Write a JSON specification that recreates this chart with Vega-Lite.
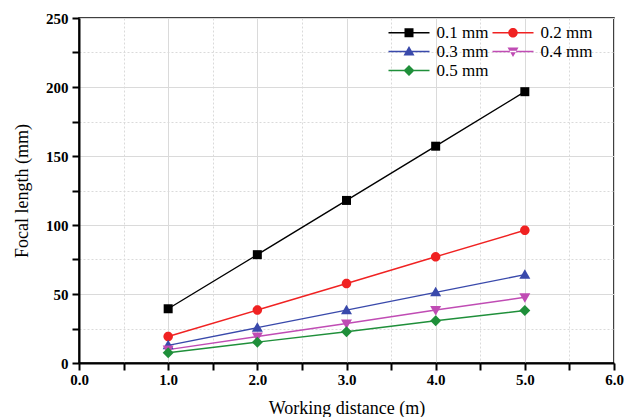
{
  "$schema": "https://vega.github.io/schema/vega-lite/v6.json",
  "width": 535,
  "height": 345,
  "autosize": {"type": "none"},
  "padding": {"left": 79, "top": 18, "right": 12, "bottom": 54},
  "background": "white",
  "config": {
    "font": "Liberation Serif",
    "view": {"stroke": "#000", "strokeWidth": 1.5},
    "legend": {"symbolStrokeWidth": 0, "padding": 0}
  },
  "data": {
    "values": [
      {"distance": 1, "focal": 39.3, "diameter": "0.1 mm"},
      {"distance": 2, "focal": 78.5, "diameter": "0.1 mm"},
      {"distance": 3, "focal": 117.8, "diameter": "0.1 mm"},
      {"distance": 4, "focal": 157.1, "diameter": "0.1 mm"},
      {"distance": 5, "focal": 196.6, "diameter": "0.1 mm"},
      {"distance": 1, "focal": 19.2, "diameter": "0.2 mm"},
      {"distance": 2, "focal": 38.4, "diameter": "0.2 mm"},
      {"distance": 3, "focal": 57.6, "diameter": "0.2 mm"},
      {"distance": 4, "focal": 77.0, "diameter": "0.2 mm"},
      {"distance": 5, "focal": 96.2, "diameter": "0.2 mm"},
      {"distance": 1, "focal": 12.8, "diameter": "0.3 mm"},
      {"distance": 2, "focal": 25.6, "diameter": "0.3 mm"},
      {"distance": 3, "focal": 38.3, "diameter": "0.3 mm"},
      {"distance": 4, "focal": 51.2, "diameter": "0.3 mm"},
      {"distance": 5, "focal": 64.0, "diameter": "0.3 mm"},
      {"distance": 1, "focal": 9.7, "diameter": "0.4 mm"},
      {"distance": 2, "focal": 19.2, "diameter": "0.4 mm"},
      {"distance": 3, "focal": 28.6, "diameter": "0.4 mm"},
      {"distance": 4, "focal": 38.4, "diameter": "0.4 mm"},
      {"distance": 5, "focal": 47.6, "diameter": "0.4 mm"},
      {"distance": 1, "focal": 7.4, "diameter": "0.5 mm"},
      {"distance": 2, "focal": 15.1, "diameter": "0.5 mm"},
      {"distance": 3, "focal": 22.6, "diameter": "0.5 mm"},
      {"distance": 4, "focal": 30.6, "diameter": "0.5 mm"},
      {"distance": 5, "focal": 38.0, "diameter": "0.5 mm"}
    ]
  },
  "encoding": {
    "x": {
      "field": "distance",
      "type": "quantitative",
      "scale": {"domain": [0, 6], "nice": false, "zero": false},
      "axis": {
        "title": "Working distance (m)",
        "values": [0, 0.5, 1, 1.5, 2, 2.5, 3, 3.5, 4, 4.5, 5, 5.5, 6],
        "labelExpr": "datum.value % 1 === 0 ? format(datum.value, '.1f') : ''",
        "labelFont": "Liberation Serif",
        "labelFontWeight": "bold",
        "labelFontSize": 15,
        "labelColor": "#000",
        "labelPadding": 2,
        "labelFlush": false,
        "labelOverlap": false,
        "tickSize": 7,
        "tickColor": "#000",
        "tickWidth": 2,
        "domainColor": "#000",
        "domainWidth": 2,
        "grid": true,
        "gridColor": "#dadada",
        "gridWidth": 1,
        "gridDash": {"condition": {"test": "datum.value % 1 === 0", "value": []}, "value": [2, 2]},
        "titleFont": "Liberation Serif",
        "titleFontSize": 18,
        "titleFontWeight": "normal",
        "titleColor": "#000",
        "titlePadding": 12,
        "encode": {
          "ticks": {
            "update": {
              "y": {"signal": "datum.value % 1 === 0 ? -7 : -4"},
              "y2": {"signal": "datum.value % 1 === 0 ? 7 : 4"}
            }
          }
        }
      }
    },
    "y": {
      "field": "focal",
      "type": "quantitative",
      "scale": {"domain": [0, 250], "nice": false},
      "axis": {
        "title": "Focal length (mm)",
        "values": [0, 25, 50, 75, 100, 125, 150, 175, 200, 225, 250],
        "labelExpr": "datum.value % 50 === 0 ? datum.label : ''",
        "labelFont": "Liberation Serif",
        "labelFontWeight": "bold",
        "labelFontSize": 15,
        "labelColor": "#000",
        "labelPadding": 4,
        "labelFlush": false,
        "labelOverlap": false,
        "tickSize": 7,
        "tickColor": "#000",
        "tickWidth": 2,
        "domainColor": "#000",
        "domainWidth": 2,
        "grid": true,
        "gridColor": "#dadada",
        "gridWidth": 1,
        "gridDash": {"condition": {"test": "datum.value % 50 === 0", "value": []}, "value": [2, 2]},
        "titleFont": "Liberation Serif",
        "titleFontSize": 18,
        "titleFontWeight": "normal",
        "titleColor": "#000",
        "titlePadding": 14,
        "encode": {
          "ticks": {
            "update": {
              "x": {"signal": "datum.value % 50 === 0 ? 8 : 4"},
              "x2": {"signal": "datum.value % 50 === 0 ? -7 : -3"}
            }
          }
        }
      }
    },
    "color": {
      "field": "diameter",
      "type": "nominal",
      "scale": {
        "domain": ["0.1 mm", "0.2 mm", "0.3 mm", "0.4 mm", "0.5 mm"],
        "range": ["#000000", "#f02222", "#3949ab", "#c04cb4", "#1f8f3a"]
      },
      "legend": null
    }
  },
  "layer": [
    {"mark": {"type": "line", "strokeWidth": 1.4}},
    {
      "mark": {"type": "point", "filled": true, "size": 100, "opacity": 1},
      "encoding": {
        "shape": {
          "field": "diameter",
          "type": "nominal",
          "scale": {
            "domain": ["0.1 mm", "0.2 mm", "0.3 mm", "0.4 mm", "0.5 mm"],
            "range": [
              "M-0.9,-0.9H0.9V0.9H-0.9Z",
              "M0.95,0A0.95,0.95,0,1,1,-0.95,0A0.95,0.95,0,1,1,0.95,0Z",
              "M0,-1.1L1.1,0.8H-1.1Z",
              "M0,1.1L1.1,-0.8H-1.1Z",
              "M0,-1.1L1.1,0L0,1.1L-1.1,0Z"
            ]
          },
          "legend": null
        }
      }
    },
    {
      "mark": {"type": "point", "filled": true, "size": 100, "opacity": 0},
      "encoding": {
        "shape": {
          "field": "diameter",
          "type": "nominal",
          "scale": {
            "domain": ["0.1 mm", "0.2 mm", "0.3 mm", "0.4 mm", "0.5 mm"],
            "range": [
              "M-4.1,-0.13H4.1V0.13H-4.1Z M-0.9,-0.9H0.9V0.9H-0.9Z",
              "M-4.1,-0.13H4.1V0.13H-4.1Z M0.95,0A0.95,0.95,0,1,1,-0.95,0A0.95,0.95,0,1,1,0.95,0Z",
              "M-4.1,-0.13H4.1V0.13H-4.1Z M0,-1.1L1.1,0.8H-1.1Z",
              "M-4.1,-0.13H4.1V0.13H-4.1Z M0,1.1L1.1,-0.8H-1.1Z",
              "M-4.1,-0.13H4.1V0.13H-4.1Z M0,-1.1L1.1,0L0,1.1L-1.1,0Z"
            ]
          },
          "legend": {
            "title": null,
            "orient": "none",
            "legendX": 306,
            "legendY": 6,
            "columns": 2,
            "direction": "horizontal",
            "symbolSize": 100,
            "symbolOpacity": 1,
            "symbolStrokeWidth": 0,
            "symbolFillColor": "#000000",
            "symbolOffset": 15.5,
            "labelOffset": 19,
            "columnPadding": -1,
            "rowPadding": 1,
            "labelFont": "Liberation Serif",
            "labelFontSize": 17,
            "labelColor": "#000",
            "encode": {
              "symbols": {
                "update": {
                  "fill": {"scale": "color", "field": "value"},
                  "opacity": {"value": 1}
                }
              }
            }
          }
        }
      }
    }
  ],
  "resolve": {"scale": {"shape": "independent"}}
}
